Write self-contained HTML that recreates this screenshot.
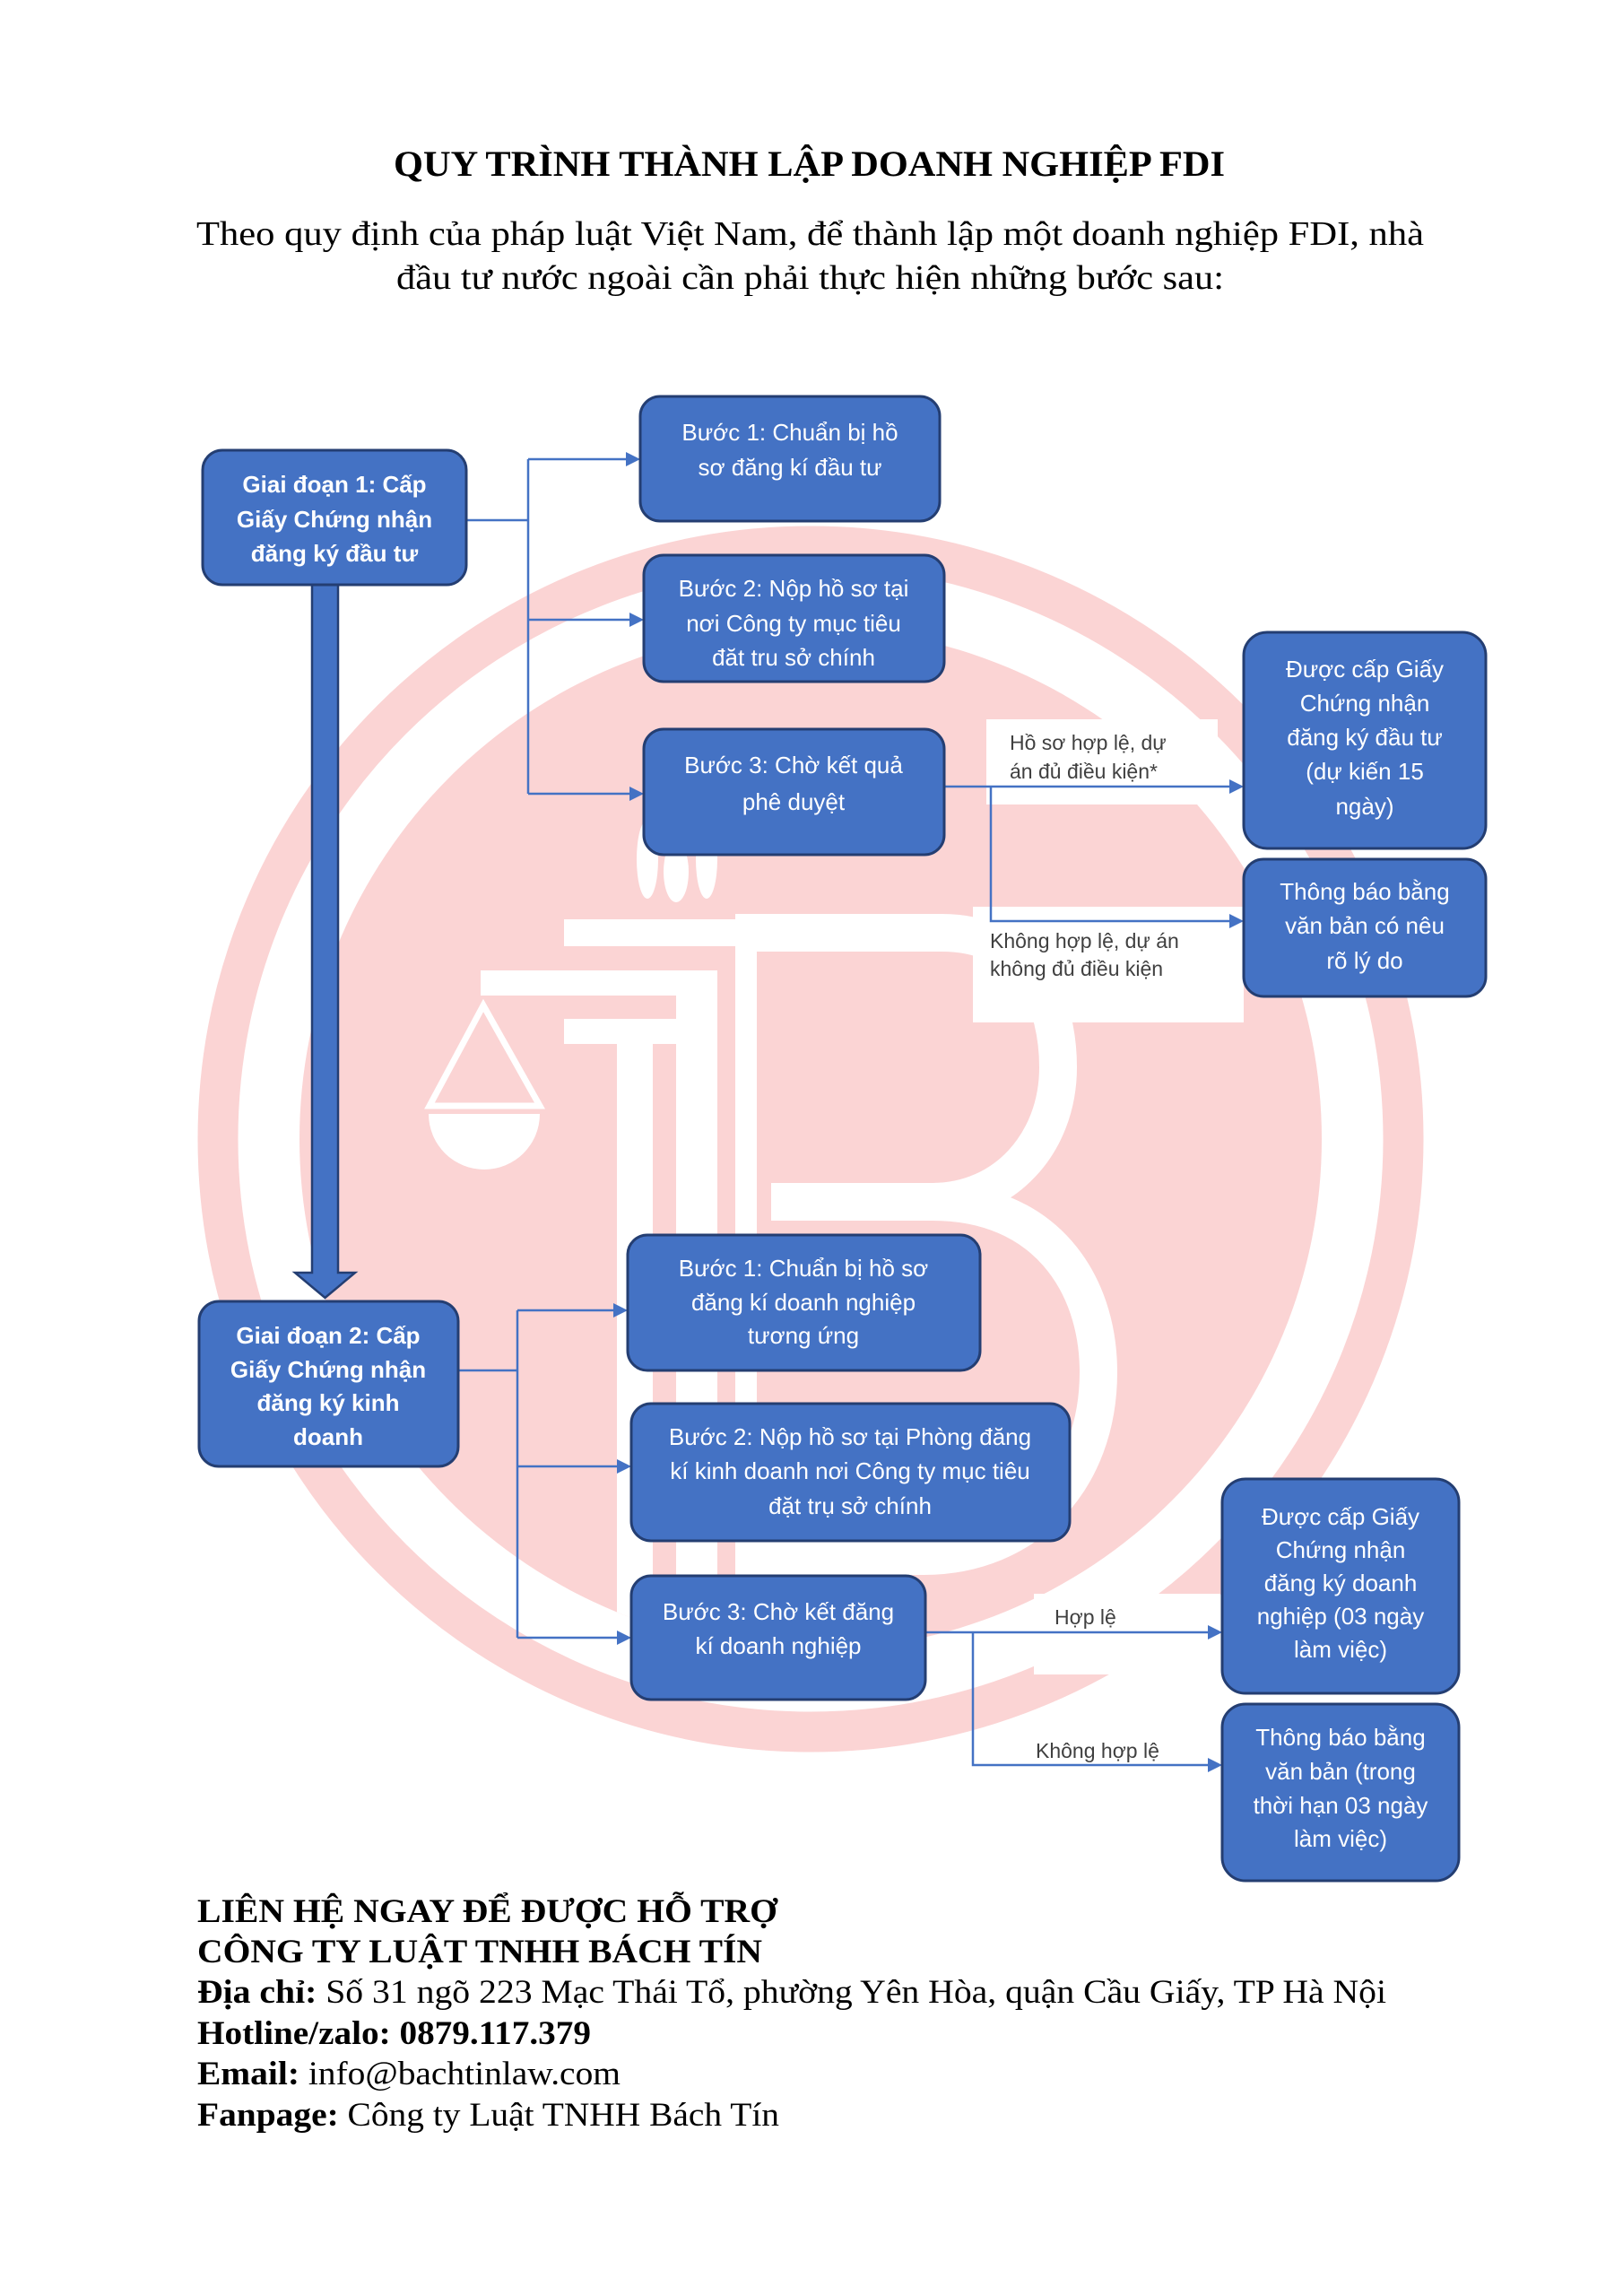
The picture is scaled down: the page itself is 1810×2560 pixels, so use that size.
<!DOCTYPE html>
<html>
<head>
<meta charset="utf-8">
<style>
  html,body{margin:0;padding:0;background:#fff;}
  svg{display:block;}
  .bx{fill:#4472c4;stroke:#243e72;stroke-width:3;}
  .t{font-family:"Liberation Sans",Arial,sans-serif;font-size:26px;fill:#fff;text-anchor:middle;}
  .tb{font-family:"Liberation Sans",Arial,sans-serif;font-size:26px;font-weight:bold;fill:#fff;text-anchor:middle;}
  .lb{font-family:"Liberation Sans",Arial,sans-serif;font-size:23px;fill:#404040;}
  .sr{font-family:"Liberation Serif","Times New Roman",serif;fill:#000;}
  .ln{stroke:#4472c4;stroke-width:2.5;fill:none;}
  .ah{fill:#4472c4;}
</style>
</head>
<body>
<svg width="1810" height="2560" viewBox="0 0 1810 2560" xmlns="http://www.w3.org/2000/svg">
  <rect x="0" y="0" width="1810" height="2560" fill="#fff"/>

  <!-- Watermark -->
  <defs>
    <clipPath id="inner"><circle cx="904" cy="1270" r="570"/></clipPath>
  </defs>
  <circle cx="904" cy="1270" r="661" fill="none" stroke="#fbd4d4" stroke-width="45"/>
  <circle cx="904" cy="1270" r="570" fill="#fbd4d4"/>
  <g clip-path="url(#inner)" fill="#fff">
    <rect x="629" y="1025" width="470" height="30"/>
    <rect x="536" y="1082" width="264" height="28"/>
    <rect x="629" y="1136" width="171" height="28"/>
    <rect x="688" y="1164" width="40" height="750"/>
    <rect x="754" y="1110" width="46" height="800"/>
    <rect x="820" y="1055" width="24" height="860"/>
    <path d="M 820 1040 H 1050 C 1150 1040 1180 1120 1180 1190 C 1180 1275 1120 1340 1040 1340 H 860" fill="none" stroke="#fff" stroke-width="42"/>
    <path d="M 1040 1340 C 1165 1340 1225 1430 1225 1530 C 1225 1650 1145 1735 1030 1735 H 820" fill="none" stroke="#fff" stroke-width="42"/>
    <ellipse cx="722" cy="958" rx="12" ry="44"/>
    <ellipse cx="754" cy="972" rx="14" ry="34"/>
    <ellipse cx="788" cy="958" rx="12" ry="44"/>
    <polygon points="539,1121 479,1233 602,1233" fill="none" stroke="#fff" stroke-width="7"/>
    <path d="M 478 1242 A 62 62 0 0 0 602 1242 Z"/>
  </g>

  <!-- Title -->
  <text class="sr" x="439" y="196" font-size="40" font-weight="bold" textLength="927" lengthAdjust="spacingAndGlyphs">QUY TRÌNH THÀNH LẬP DOANH NGHIỆP FDI</text>
  <text class="sr" x="219" y="273" font-size="38" textLength="1369" lengthAdjust="spacingAndGlyphs">Theo quy định của pháp luật Việt Nam, để thành lập một doanh nghiệp FDI, nhà</text>
  <text class="sr" x="442" y="322" font-size="38" textLength="923" lengthAdjust="spacingAndGlyphs">đầu tư nước ngoài cần phải thực hiện những bước sau:</text>

  <!-- label white boxes -->
  <rect x="1100" y="802" width="258" height="95" fill="#fff"/>
  <rect x="1085" y="1011" width="302" height="129" fill="#fff"/>
  <rect x="1153" y="1777" width="208" height="90" fill="#fff"/>

  <!-- Big down arrow -->
  <polygon points="348,652 377,652 377,1419 396,1419 362.5,1447 329,1419 348,1419" fill="#4472c4" stroke="#243e72" stroke-width="2.5"/>

  <!-- Top connectors -->
  <path class="ln" d="M520 580 H589 M589 512 V885 M589 512 H700 M589 691 H704 M589 885 H704"/>
  <polygon class="ah" points="714,512 698,504 698,520"/>
  <polygon class="ah" points="718,691 702,683 702,699"/>
  <polygon class="ah" points="718,885 702,877 702,893"/>
  <path class="ln" d="M1053 877 H1373 M1105 877 V1027 H1373"/>
  <polygon class="ah" points="1387,877 1371,869 1371,885"/>
  <polygon class="ah" points="1387,1027 1371,1019 1371,1035"/>

  <!-- Bottom connectors -->
  <path class="ln" d="M511 1528 H577 M577 1461 V1826 M577 1461 H686 M577 1635 H690 M577 1826 H690"/>
  <polygon class="ah" points="700,1461 684,1453 684,1469"/>
  <polygon class="ah" points="704,1635 688,1627 688,1643"/>
  <polygon class="ah" points="704,1826 688,1818 688,1834"/>
  <path class="ln" d="M1032 1820 H1349 M1085 1820 V1968 H1349"/>
  <polygon class="ah" points="1363,1820 1347,1812 1347,1828"/>
  <polygon class="ah" points="1363,1968 1347,1960 1347,1976"/>

  <!-- Labels -->
  <text class="lb" x="1126" y="836">Hồ sơ hợp lệ, dự</text>
  <text class="lb" x="1126" y="868">án đủ điều kiện*</text>
  <text class="lb" x="1104" y="1057">Không hợp lệ, dự án</text>
  <text class="lb" x="1104" y="1088">không đủ điều kiện</text>
  <text class="lb" x="1176" y="1811">Hợp lệ</text>
  <text class="lb" x="1155" y="1960">Không hợp lệ</text>

  <!-- Boxes stage 1 -->
  <rect class="bx" x="226" y="502" width="294" height="150" rx="22"/>
  <text class="tb" x="373" y="549">Giai đoạn 1: Cấp</text>
  <text class="tb" x="373" y="588">Giấy Chứng nhận</text>
  <text class="tb" x="373" y="626">đăng ký đầu tư</text>

  <rect class="bx" x="714" y="442" width="334" height="139" rx="22"/>
  <text class="t" x="881" y="491">Bước 1: Chuẩn bị hồ</text>
  <text class="t" x="881" y="530">sơ đăng kí đầu tư</text>

  <rect class="bx" x="718" y="619" width="335" height="141" rx="22"/>
  <text class="t" x="885" y="665">Bước 2: Nộp hồ sơ tại</text>
  <text class="t" x="885" y="704">nơi Công ty mục tiêu</text>
  <text class="t" x="885" y="742">đăt tru sở chính</text>

  <rect class="bx" x="718" y="813" width="335" height="140" rx="22"/>
  <text class="t" x="885" y="862">Bước 3: Chờ kết quả</text>
  <text class="t" x="885" y="903">phê duyệt</text>

  <rect class="bx" x="1387" y="705" width="270" height="241" rx="26"/>
  <text class="t" x="1522" y="755">Được cấp Giấy</text>
  <text class="t" x="1522" y="793">Chứng nhận</text>
  <text class="t" x="1522" y="831">đăng ký đầu tư</text>
  <text class="t" x="1522" y="869">(dự kiến 15</text>
  <text class="t" x="1522" y="908">ngày)</text>

  <rect class="bx" x="1387" y="958" width="270" height="153" rx="22"/>
  <text class="t" x="1522" y="1003">Thông báo bằng</text>
  <text class="t" x="1522" y="1041">văn bản có nêu</text>
  <text class="t" x="1522" y="1080">rõ lý do</text>

  <!-- Boxes stage 2 -->
  <rect class="bx" x="222" y="1451" width="289" height="184" rx="22"/>
  <text class="tb" x="366" y="1498">Giai đoạn 2: Cấp</text>
  <text class="tb" x="366" y="1536">Giấy Chứng nhận</text>
  <text class="tb" x="366" y="1573">đăng ký kinh</text>
  <text class="tb" x="366" y="1611">doanh</text>

  <rect class="bx" x="700" y="1377" width="393" height="151" rx="22"/>
  <text class="t" x="896" y="1423">Bước 1: Chuẩn bị hồ sơ</text>
  <text class="t" x="896" y="1461">đăng kí doanh nghiệp</text>
  <text class="t" x="896" y="1498">tương ứng</text>

  <rect class="bx" x="704" y="1565" width="489" height="153" rx="22"/>
  <text class="t" x="948" y="1611">Bước 2: Nộp hồ sơ tại Phòng đăng</text>
  <text class="t" x="948" y="1649">kí kinh doanh nơi Công ty mục tiêu</text>
  <text class="t" x="948" y="1688">đặt trụ sở chính</text>

  <rect class="bx" x="704" y="1757" width="328" height="138" rx="22"/>
  <text class="t" x="868" y="1806">Bước 3: Chờ kết đăng</text>
  <text class="t" x="868" y="1844">kí doanh nghiệp</text>

  <rect class="bx" x="1363" y="1649" width="264" height="239" rx="26"/>
  <text class="t" x="1495" y="1700">Được cấp Giấy</text>
  <text class="t" x="1495" y="1737">Chứng nhận</text>
  <text class="t" x="1495" y="1774">đăng ký doanh</text>
  <text class="t" x="1495" y="1811">nghiệp (03 ngày</text>
  <text class="t" x="1495" y="1848">làm việc)</text>

  <rect class="bx" x="1363" y="1900" width="264" height="197" rx="26"/>
  <text class="t" x="1495" y="1946">Thông báo bằng</text>
  <text class="t" x="1495" y="1984">văn bản (trong</text>
  <text class="t" x="1495" y="2022">thời hạn 03 ngày</text>
  <text class="t" x="1495" y="2059">làm việc)</text>

  <!-- Footer -->
  <text class="sr" x="220" y="2143" font-size="37" font-weight="bold" textLength="647" lengthAdjust="spacingAndGlyphs">LIÊN HỆ NGAY ĐỂ ĐƯỢC HỖ TRỢ</text>
  <text class="sr" x="220" y="2188" font-size="37" font-weight="bold" textLength="630" lengthAdjust="spacingAndGlyphs">CÔNG TY LUẬT TNHH BÁCH TÍN</text>
  <text class="sr" x="220" y="2233" font-size="37" textLength="1326" lengthAdjust="spacingAndGlyphs"><tspan font-weight="bold">Địa chỉ:</tspan> Số 31 ngõ 223 Mạc Thái Tổ, phường Yên Hòa, quận Cầu Giấy, TP Hà Nội</text>
  <text class="sr" x="220" y="2279" font-size="37" font-weight="bold" textLength="439" lengthAdjust="spacingAndGlyphs">Hotline/zalo: 0879.117.379</text>
  <text class="sr" x="220" y="2324" font-size="37" textLength="472" lengthAdjust="spacingAndGlyphs"><tspan font-weight="bold">Email:</tspan> info@bachtinlaw.com</text>
  <text class="sr" x="220" y="2370" font-size="37" textLength="649" lengthAdjust="spacingAndGlyphs"><tspan font-weight="bold">Fanpage:</tspan> Công ty Luật TNHH Bách Tín</text>
</svg>
</body>
</html>
